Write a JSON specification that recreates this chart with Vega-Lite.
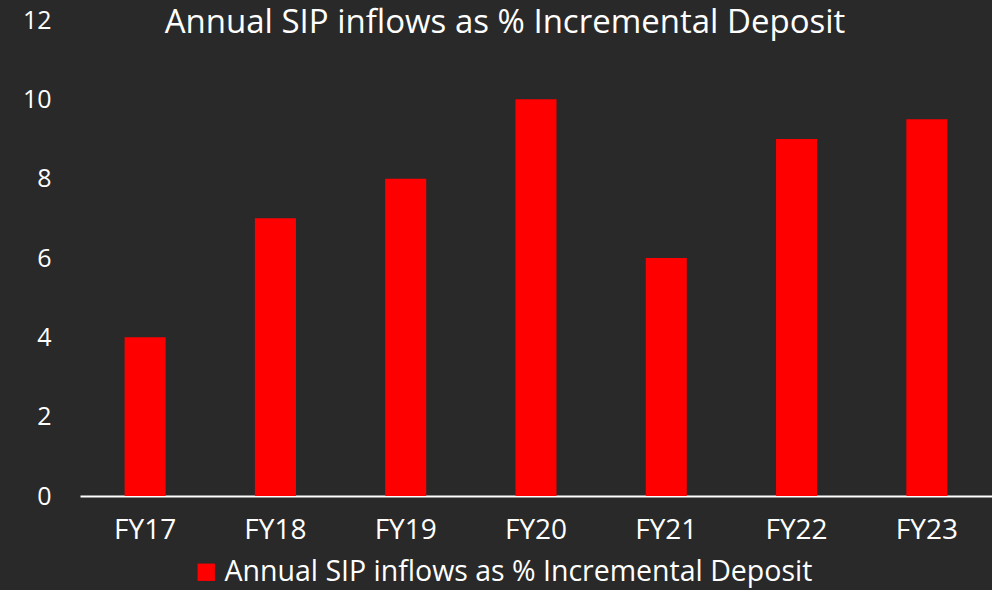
{
  "$schema": "https://vega.github.io/schema/vega-lite/v6.json",
  "width": 912,
  "height": 476,
  "autosize": {"type": "none"},
  "padding": {"left": 80, "top": 20, "right": 0, "bottom": 94},
  "background": "#292929",
  "title": {
    "text": "Annual SIP inflows as % Incremental Deposit",
    "color": "#ffffff",
    "font": "Open Sans",
    "fontSize": 33,
    "fontWeight": "normal",
    "anchor": "middle",
    "baseline": "alphabetic",
    "offset": 0,
    "dy": 58,
    "dx": -31
  },
  "data": {
    "values": [
      {"year": "FY17", "value": 4, "series": "Annual SIP inflows as % Incremental Deposit"},
      {"year": "FY18", "value": 7, "series": "Annual SIP inflows as % Incremental Deposit"},
      {"year": "FY19", "value": 8, "series": "Annual SIP inflows as % Incremental Deposit"},
      {"year": "FY20", "value": 10, "series": "Annual SIP inflows as % Incremental Deposit"},
      {"year": "FY21", "value": 6, "series": "Annual SIP inflows as % Incremental Deposit"},
      {"year": "FY22", "value": 9, "series": "Annual SIP inflows as % Incremental Deposit"},
      {"year": "FY23", "value": 9.5, "series": "Annual SIP inflows as % Incremental Deposit"}
    ]
  },
  "mark": {"type": "bar", "color": "#ff0000"},
  "encoding": {
    "x": {
      "field": "year",
      "type": "nominal",
      "sort": null,
      "scale": {"paddingInner": 0.685, "paddingOuter": 0.3425},
      "axis": {
        "title": null,
        "labelAngle": 0,
        "labelColor": "#ffffff",
        "labelFont": "Open Sans",
        "labelFontSize": 28,
        "labelPadding": 20,
        "ticks": false,
        "domainColor": "#ffffff",
        "domainWidth": 2
      }
    },
    "y": {
      "field": "value",
      "type": "quantitative",
      "scale": {"domain": [0, 12]},
      "axis": {
        "title": null,
        "values": [0, 2, 4, 6, 8, 10, 12],
        "grid": false,
        "domain": false,
        "ticks": false,
        "labelColor": "#ffffff",
        "labelFont": "Open Sans",
        "labelFontSize": 25,
        "labelPadding": 29
      }
    },
    "fill": {
      "field": "series",
      "type": "nominal",
      "scale": {"range": ["#ff0000"]},
      "legend": {
        "title": null,
        "orient": "none",
        "legendX": 112,
        "legendY": 538,
        "symbolType": "square",
        "symbolSize": 300,
        "symbolOpacity": 1,
        "labelColor": "#ffffff",
        "labelFont": "Open Sans",
        "labelFontSize": 28.5,
        "labelLimit": 1000
      }
    }
  },
  "config": {"view": {"stroke": null}}
}
